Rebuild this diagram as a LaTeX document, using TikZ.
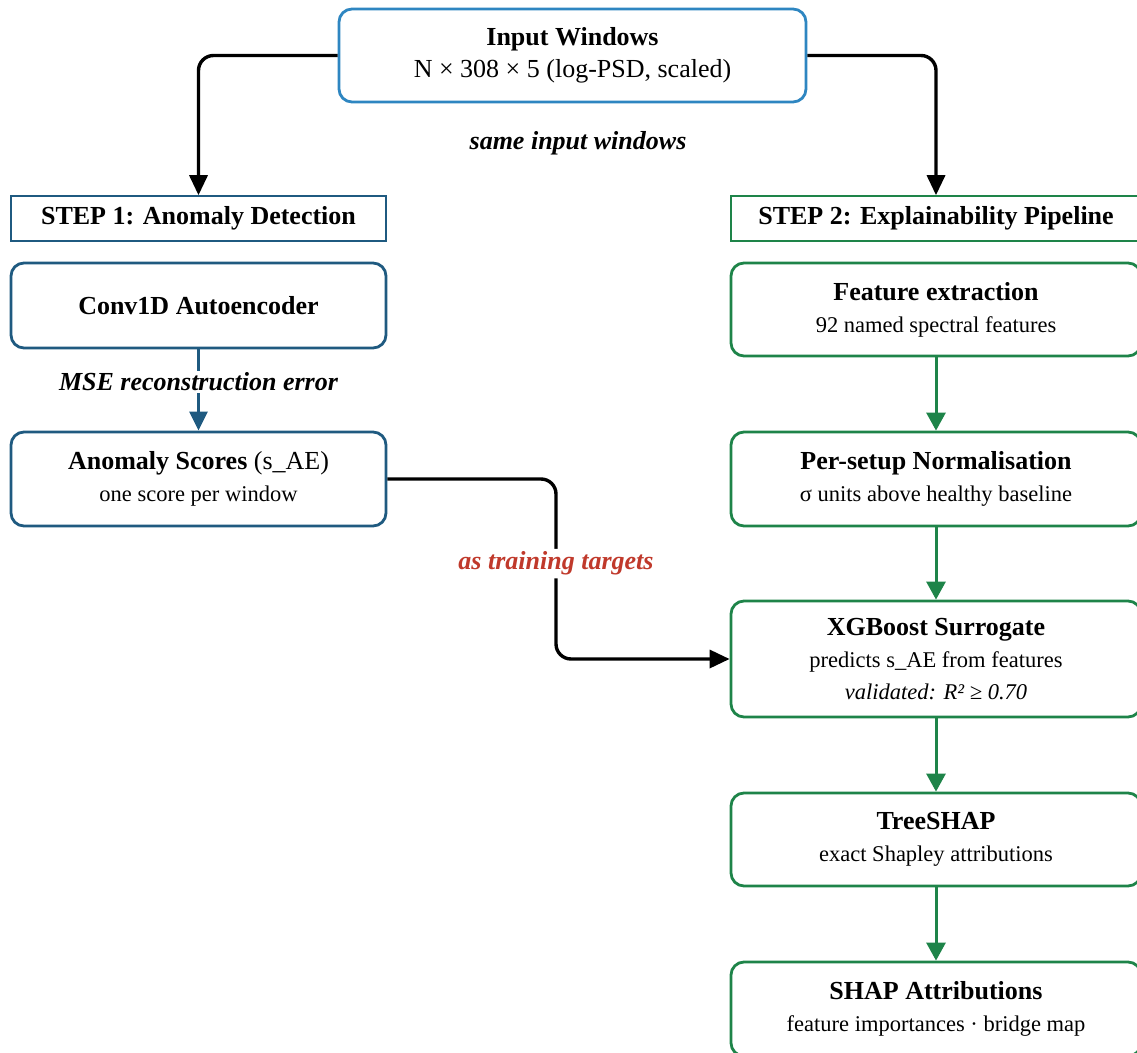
\documentclass[tikz,border=0pt]{standalone}
\usepackage{fontspec}
\setmainfont{Liberation Serif}
\usetikzlibrary{arrows.meta}
\definecolor{inblue}{HTML}{2E86C1}
\definecolor{dblue}{HTML}{1F5A80}
\definecolor{dgreen}{HTML}{1E8449}
\definecolor{tred}{HTML}{C0392B}
\begin{document}
\begin{tikzpicture}[x=1pt,y=-1pt,
  box/.style={draw, rounded corners=13pt, line width=2.8pt, fill=white, align=center,
    font=\fontsize{26}{32}\selectfont, inner sep=0pt},
  stepbox/.style={draw, line width=1.6pt, fill=white, align=center, inner sep=0pt,
    font=\bfseries\fontsize{26}{30}\selectfont},
  blk/.style={line width=3.4pt, rounded corners=15pt, -{Triangle[length=20pt,width=18pt]}},
  grn/.style={line width=3pt, draw=dgreen, -{Triangle[length=18pt,width=19pt]}, color=dgreen},
  lbl/.style={fill=white, inner sep=3pt, font=\bfseries\itshape\fontsize{26}{30}\selectfont}
]
\useasboundingbox (0,0) rectangle (1137,1052);
\newcommand{\subt}[1]{{\fontsize{22.5}{32}\selectfont #1}}

\node[box, draw=inblue, minimum width=467pt, minimum height=93pt] (inp) at (572.5,55.5)
  {\textbf{Input Windows}\\N × 308 × 5 (log-PSD, scaled)};

\node[stepbox, draw=dblue, minimum width=375pt, minimum height=45pt] (s1) at (198.5,218.5)
  {STEP 1: Anomaly Detection};
\node[stepbox, draw=dgreen, minimum width=410pt, minimum height=45pt] (s2) at (936,218.5)
  {STEP 2: Explainability Pipeline};

\node[box, draw=dblue, minimum width=375pt, minimum height=85pt] (conv) at (198.5,305.5)
  {\textbf{Conv1D Autoencoder}};
\node[box, draw=dblue, minimum width=375pt, minimum height=94pt] (anom) at (198.5,479)
  {\textbf{Anomaly Scores} (s\_AE)\\\subt{one score per window}};

\node[box, draw=dgreen, minimum width=410pt, minimum height=93pt] (feat) at (936,309.5)
  {\textbf{Feature extraction}\\\subt{92 named spectral features}};
\node[box, draw=dgreen, minimum width=410pt, minimum height=94pt] (norm) at (936,479)
  {\textbf{Per-setup Normalisation}\\\subt{σ units above healthy baseline}};
\node[box, draw=dgreen, minimum width=410pt, minimum height=116pt] (xgb) at (936,659)
  {\textbf{XGBoost Surrogate}\\\subt{predicts s\_AE from features}\\\subt{\itshape validated: R² ≥ 0.70}};
\node[box, draw=dgreen, minimum width=410pt, minimum height=93pt] (tree) at (936,839.5)
  {\textbf{TreeSHAP}\\\subt{exact Shapley attributions}};
\node[box, draw=dgreen, minimum width=410pt, minimum height=94pt] (shap) at (936,1009)
  {\textbf{SHAP Attributions}\\\subt{feature importances · bridge map}};

\node[lbl, fill=none] (same) at (578,143) {same input windows};

% top arrows
\draw[blk] (inp.west) -| (s1.north);
\draw[blk] (inp.east) -| (s2.north);

% MSE arrow
\draw[line width=2.8pt, dblue, -{Triangle[length=19pt,width=18pt]}] (conv.south) --
  node[lbl, text=black, pos=0.4, inner sep=2pt] (mse) {MSE reconstruction error} (anom.north);

% training targets
\coordinate (mid) at (556,0);
\draw[blk] (anom.east) -- (anom.east -| mid) -- node[lbl, text=tred, pos=0.47] (tt) {as training targets}
  (xgb.west -| mid) -- (xgb.west);

% green chain
\draw[grn] (feat.south) -- (norm.north);
\draw[grn] (norm.south) -- (xgb.north);
\draw[grn] (xgb.south) -- (tree.north);
\draw[grn] (tree.south) -- (shap.north);
\end{tikzpicture}
\end{document}
